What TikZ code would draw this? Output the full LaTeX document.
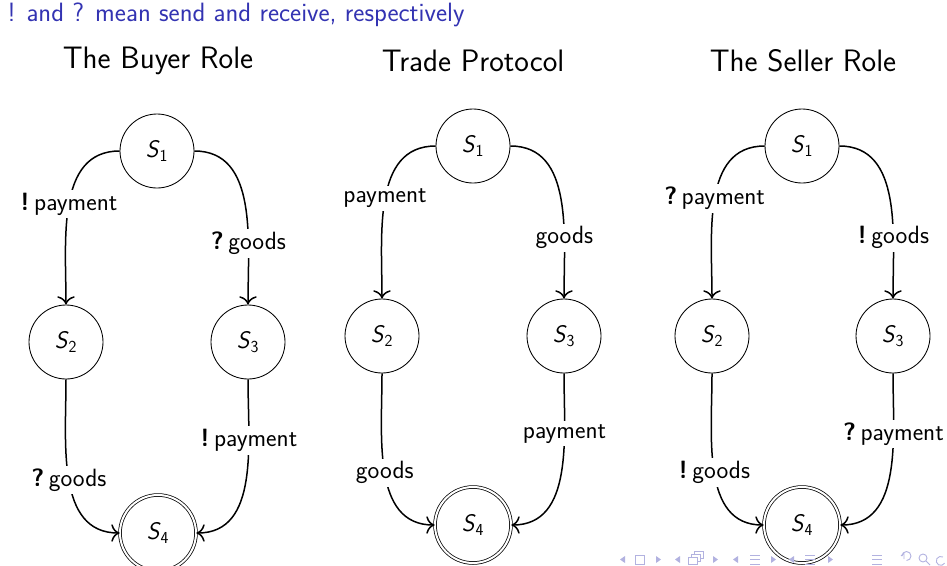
\documentclass[tikz,border=0pt]{standalone}
\usepackage{tikz}
\usetikzlibrary{arrows.meta}
\definecolor{beamerblue}{RGB}{51,51,178}
\definecolor{navcol}{RGB}{178,178,224}
\newcommand{\st}[1]{\textit{S}\textsubscript{#1}}
\newcommand{\snd}{\textbf{!}\hspace{0.18em}}
\newcommand{\rcv}{\textbf{?}\hspace{0.18em}}
\begin{document}
\begin{tikzpicture}[x=1pt,y=-1pt,
  every node/.style={font=\sffamily},
  state/.style={circle,draw,line width=0.85pt,minimum size=74pt,inner sep=0pt,font=\sffamily\fontsize{24}{28}\selectfont},
  final/.style={circle,draw,double,double distance=2pt,line width=0.75pt,minimum size=76pt,inner sep=0pt,font=\sffamily\fontsize{24}{28}\selectfont},
  trans/.style={-{To[scale=1.7]},line width=1.5pt},
  lbl/.style={fill=white,inner sep=3pt,font=\sffamily\fontsize{25}{30}\selectfont},
  ttl/.style={font=\sffamily\fontsize{31}{36}\selectfont},
  navsym/.style={navcol,line width=0.9pt}
]
\useasboundingbox (0,0) rectangle (947,565);

\node[anchor=west,text=beamerblue,font=\sffamily\fontsize{26.5}{30}\selectfont] (note) at (4,15) {! and ? mean send and receive, respectively};

\node[ttl] (t1) at (158,61) {The Buyer Role};
\node[ttl] (t2) at (473,61) {Trade Protocol};
\node[ttl] (t3) at (803,61) {The Seller Role};

% Buyer
\node[state] (b1) at (157,151) {\st{1}};
\node[state] (b2) at (66,342) {\st{2}};
\node[state] (b3) at (248,342) {\st{3}};
\node[final] (b4) at (158,533) {\st{4}};
\draw[trans] (b1.west) to[out=180,in=90] node[lbl,pos=0.5] {\snd payment} (b2.north);
\draw[trans] (b1.east) to[out=0,in=90] node[lbl,pos=0.7] {\rcv goods} (b3.north);
\draw[trans] (b2.south) to[out=-90,in=180] node[lbl,pos=0.5] {\rcv goods} (b4.west);
\draw[trans] (b3.south) to[out=-90,in=0] node[lbl,pos=0.3] {\snd payment} (b4.east);

% Trade protocol
\node[state] (p1) at (473,146) {\st{1}};
\node[state] (p2) at (382,336) {\st{2}};
\node[state] (p3) at (564,336) {\st{3}};
\node[final] (p4) at (473,525) {\st{4}};
\draw[trans] (p1.west) to[out=180,in=90] node[lbl,pos=0.5] {payment} (p2.north);
\draw[trans] (p1.east) to[out=0,in=90] node[lbl,pos=0.7] {goods} (p3.north);
\draw[trans] (p2.south) to[out=-90,in=180] node[lbl,pos=0.5] {goods} (p4.west);
\draw[trans] (p3.south) to[out=-90,in=0] node[lbl,pos=0.3] {payment} (p4.east);

% Seller
\node[state] (s1) at (802,146) {\st{1}};
\node[state] (s2) at (712,336) {\st{2}};
\node[state] (s3) at (893,336) {\st{3}};
\node[final] (s4) at (802,525) {\st{4}};
\draw[trans] (s1.west) to[out=180,in=90] node[lbl,pos=0.5] {\rcv payment} (s2.north);
\draw[trans] (s1.east) to[out=0,in=90] node[lbl,pos=0.7] {\snd goods} (s3.north);
\draw[trans] (s2.south) to[out=-90,in=180] node[lbl,pos=0.5] {\snd goods} (s4.west);
\draw[trans] (s3.south) to[out=-90,in=0] node[lbl,pos=0.3] {\rcv payment} (s4.east);

% navigation symbols
\begin{scope}[navsym]
\fill (625,556) -- (620,559.5) -- (625,563) -- cycle;
\draw (635,555) rectangle (644,564);
\fill (656,556) -- (661,559.5) -- (656,563) -- cycle;
\fill (680,556) -- (675,559.5) -- (680,563) -- cycle;
\draw (688,557) rectangle (697,564);
\draw (691,557) -- (691,554) -- (700,554) -- (700,561) -- (697,561);
\draw (694,554) -- (694,551) -- (703,551) -- (703,558) -- (700,558);
\fill (713,556) -- (718,559.5) -- (713,563) -- cycle;
\fill (738,556) -- (733,559.5) -- (738,563) -- cycle;
\draw (750,555) -- (760,555) (750,559.5) -- (760,559.5) (750,564) -- (760,564);
\fill (771,556) -- (776,559.5) -- (771,563) -- cycle;
\fill (794,556) -- (789,559.5) -- (794,563) -- cycle;
\draw (805,555) -- (815,555) (805,559.5) -- (815,559.5) (805,564) -- (815,564);
\fill (828,556) -- (833,559.5) -- (828,563) -- cycle;
\draw (872,555) -- (882,555) (872,559.5) -- (882,559.5) (872,564) -- (882,564);
\draw (901,556) -- (904,553) -- (904,559);
\draw (902,556) arc[start angle=180,end angle=-90,radius=4.5pt];
\draw (923,558) circle[radius=4pt] (926,561) -- (930,565);
\draw (943,557) arc[start angle=60,end angle=330,radius=4.5pt];
\end{scope}
\end{tikzpicture}
\end{document}
